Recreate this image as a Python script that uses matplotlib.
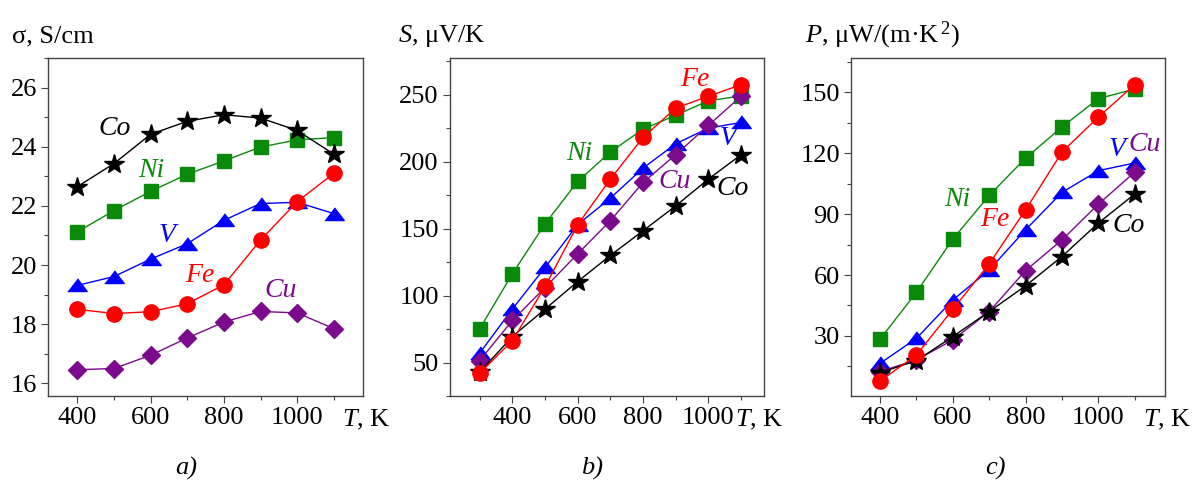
import matplotlib
matplotlib.use('Agg')
import matplotlib.pyplot as plt
from matplotlib.ticker import MultipleLocator

plt.rcParams['font.family'] = ['Liberation Serif', 'DejaVu Serif']
plt.rcParams['mathtext.fontset'] = 'custom'
plt.rcParams['mathtext.rm'] = 'Liberation Serif'
plt.rcParams['mathtext.it'] = 'Liberation Serif:italic'

# temperatures, K
T_a = [400, 500, 600, 700, 800, 900, 1000, 1100]
T_b = [300, 400, 500, 600, 700, 800, 900, 1000, 1100]
T_c = [400, 500, 600, 700, 800, 900, 1000, 1100]

# a) electrical conductivity, S/cm
sigma_Co = [22.65, 23.43, 24.42, 24.86, 25.08, 24.97, 24.55, 23.75]
sigma_Ni = [21.12, 21.84, 22.49, 23.07, 23.52, 23.99, 24.23, 24.31]
sigma_V = [19.31, 19.61, 20.20, 20.72, 21.51, 22.08, 22.12, 21.74]
sigma_Fe = [18.50, 18.36, 18.42, 18.69, 19.33, 20.84, 22.14, 23.10]
sigma_Cu = [16.46, 16.50, 16.95, 17.53, 18.07, 18.43, 18.38, 17.85]

# b) Seebeck coefficient, uV/K
S_Co = [42.8, 69.4, 89.9, 110.5, 130.0, 148.4, 167.0, 187.0, 205.2]
S_Ni = [75.2, 116.3, 153.6, 185.2, 207.2, 224.3, 234.6, 245.5, 249.0]
S_V = [57.0, 90.0, 121.0, 153.0, 172.8, 195.2, 213.4, 225.0, 229.3]
S_Fe = [42.0, 66.4, 106.8, 152.9, 187.0, 218.1, 240.0, 248.8, 257.5]
S_Cu = [51.5, 81.4, 106.0, 131.2, 155.9, 184.5, 205.2, 227.1, 248.8]

# c) power factor, uW/(m K^2)
P_Co = [11.9, 17.8, 29.7, 42.0, 54.7, 69.1, 85.6, 99.9]
P_Ni = [28.4, 51.5, 77.7, 99.2, 117.6, 132.9, 146.9, 151.6]
P_V = [16.5, 28.8, 47.7, 62.5, 82.3, 100.7, 111.4, 115.2]
P_Fe = [7.8, 20.6, 43.1, 65.5, 92.1, 120.6, 137.8, 153.8]
P_Cu = [12.4, 18.2, 28.0, 42.0, 62.2, 77.3, 94.9, 110.7]

colors = {'Co': 'black', 'Ni': '#0a8a0a', 'V': '#0000ff', 'Fe': '#ff0000', 'Cu': '#7b0a8c'}
tri = [(-1, -0.62), (1, -0.62), (0, 0.68)]
markers = {'Co': ('*', 15), 'Ni': ('s', 9.5), 'V': (tri, 14), 'Fe': ('o', 11), 'Cu': ('D', 9.5)}
order = ['Ni', 'V', 'Cu', 'Co', 'Fe']

fig = plt.figure(figsize=(11.92, 4.83), dpi=100)
ax_a = fig.add_axes([0.0403, 0.1801, 0.2643, 0.6998])
ax_b = fig.add_axes([0.3775, 0.1801, 0.2634, 0.6998])
ax_c = fig.add_axes([0.7139, 0.1801, 0.2634, 0.6998])

panels = [
    (ax_a, T_a, {'Co': sigma_Co, 'Ni': sigma_Ni, 'V': sigma_V, 'Fe': sigma_Fe, 'Cu': sigma_Cu}),
    (ax_b, T_b, {'Co': S_Co, 'Ni': S_Ni, 'V': S_V, 'Fe': S_Fe, 'Cu': S_Cu}),
    (ax_c, T_c, {'Co': P_Co, 'Ni': P_Ni, 'V': P_V, 'Fe': P_Fe, 'Cu': P_Cu}),
]

for ax, T, series in panels:
    for name in order:
        m, ms = markers[name]
        ax.plot(T, series[name], color=colors[name], lw=1.0, marker=m, ms=ms,
                mec=colors[name], mfc=colors[name])
    ax.xaxis.set_major_locator(MultipleLocator(200))
    ax.xaxis.set_minor_locator(MultipleLocator(100))
    ax.tick_params(which='major', direction='out', length=5, width=0.8,
                   labelsize=19, pad=3, top=False, right=False, color='#444444')
    ax.tick_params(which='minor', direction='out', length=3, width=0.8,
                   top=False, right=False, color='#444444')
    for sp in ax.spines.values():
        sp.set_color('#444444')
        sp.set_linewidth(1.0)

# axes ranges and y ticks
ax_a.set_xlim(320, 1180)
ax_a.set_ylim(15.57, 27.0)
ax_a.yaxis.set_major_locator(MultipleLocator(2))
ax_a.yaxis.set_minor_locator(MultipleLocator(1))

ax_b.set_xlim(209, 1170)
ax_b.set_ylim(25, 277.4)
ax_b.yaxis.set_major_locator(MultipleLocator(50))
ax_b.yaxis.set_minor_locator(MultipleLocator(25))

ax_c.set_xlim(320, 1183)
ax_c.set_ylim(0.4, 166.9)
ax_c.yaxis.set_major_locator(MultipleLocator(30))
ax_c.yaxis.set_minor_locator(MultipleLocator(15))

# series labels
labels_a = [('Co', 502, 24.62), ('Ni', 603, 23.21), ('V', 644, 21.0), ('Fe', 735, 19.65), ('Cu', 954, 19.14)]
labels_b = [('Fe', 959, 261), ('Ni', 604, 206.4), ('V', 1061, 217.6), ('Cu', 898, 185), ('Co', 1074, 180)]
labels_c = [('Ni', 611, 97.4), ('Fe', 716, 87.2), ('V', 1050, 121.7), ('Cu', 1128, 124.2), ('Co', 1082, 84.2)]
for ax, labs in [(ax_a, labels_a), (ax_b, labels_b), (ax_c, labels_c)]:
    for name, x, y in labs:
        ax.text(x, y, name, color=colors[name], fontsize=20, style='italic',
                ha='center', va='center')

# axis titles
fig.text(12 / 1192, 1 - 42 / 483, 'σ, S/cm', fontsize=19, ha='left', va='baseline')
fig.text(398 / 1192, 1 - 42 / 483, '$S$, μV/K', fontsize=19, ha='left', va='baseline')
fig.text(805 / 1192, 1 - 42 / 483, r'$P$, μW/(m·K$^{\,2}$)', fontsize=19, ha='left', va='baseline')

for ax, xs in [(ax_a, 0.933), (ax_b, 0.908), (ax_c, 0.930)]:
    ax.text(xs, -0.071, '$T$, K', fontsize=19, transform=ax.transAxes,
            ha='left', va='center')

for x, s in [(186, 'a)'), (592, 'b)'), (995, 'c)')]:
    fig.text(x / 1192, 1 - 468 / 483, s, fontsize=19, style='italic',
             ha='center', va='center')

fig.savefig('out.png', dpi=100)
